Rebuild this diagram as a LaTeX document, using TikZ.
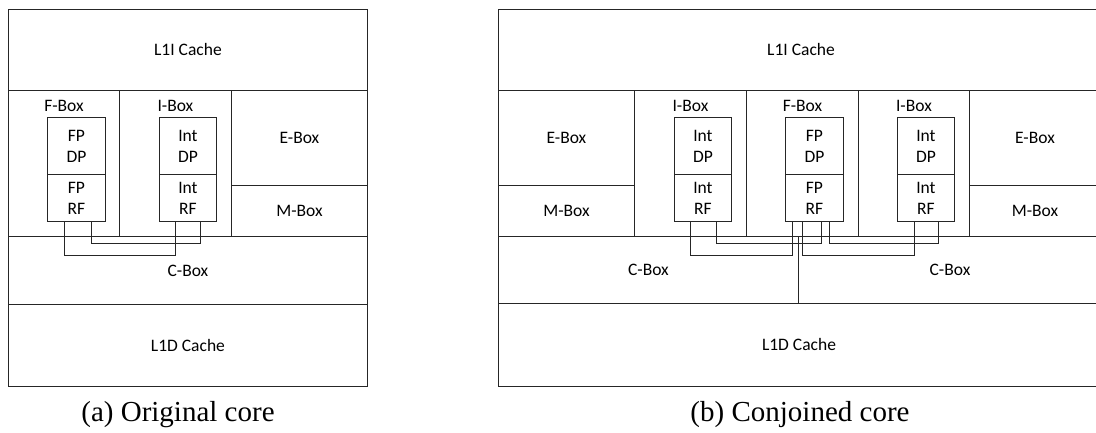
\documentclass[tikz,border=0pt]{standalone}
\usepackage{fontspec}
\setmainfont{Liberation Serif}
\newfontfamily\boxfont{Carlito}
\usetikzlibrary{positioning}

\begin{document}
\begin{tikzpicture}[x=1pt, y=-1pt,
    every node/.style={inner sep=0pt, align=center},
    unit/.style 2 args={draw=black!85, line width=0.9pt, anchor=north west,
        minimum width=#1pt, minimum height=#2pt, font=\boxfont\fontsize{17.5}{21}\selectfont},
    tag/.style={font=\boxfont\fontsize{17.5}{21}\selectfont},
    wire/.style={draw=black!85, line width=0.8pt},
    caption/.style={font=\fontsize{29}{32}\selectfont}
  ]
  \useasboundingbox (0,0) rectangle (1096,432);

  % (a) original core
  \node[unit={359}{81}] (ltop) at (8,9) {L1I Cache};
  \node[unit={111}{146}] (lfcol) at (8,90) {};
  \node[unit={112}{146}] (licol) at (119,90) {};
  \node[unit={136}{95}] (lebox) at (231,90) {E-Box};
  \node[unit={136}{51}] (lmbox) at (231,185) {M-Box};
  \node[unit={359}{68}] (lcbox) at (8,236) {C-Box};
  \node[unit={359}{82}] (lbot) at (8,304) {L1D Cache};
  \node[tag, below=10pt of lfcol.north] (lflbl) {F-Box};
  \node[tag, below=10pt of licol.north] (lilbl) {I-Box};

  \node[unit={58}{57}] (lfpdp) at (47,117) {FP\\DP};
  \node[unit={58}{47}] (lfprf) at (47,174) {FP\\RF};
  \node[unit={57}{57}] (lintdp) at (159,117) {Int\\DP};
  \node[unit={57}{47}] (lintrf) at (159,174) {Int\\RF};

  \draw[wire] ([xshift=17pt]lfprf.south west) -- ++(0,33) -| ([xshift=16pt]lintrf.south west);
  \draw[wire] ([xshift=44pt]lfprf.south west) -- ++(0,21) -| ([xshift=41pt]lintrf.south west);

  % (b) conjoined core, cut off at the right
  \node[unit={640}{81}] (rtop) at (498,9) {};
  \node[unit={136}{95}] (rebox) at (498,90) {E-Box};
  \node[unit={136}{51}] (rmbox) at (498,185) {M-Box};
  \node[unit={112}{146}] (ricol) at (634,90) {};
  \node[unit={112}{146}] (rfcol) at (746,90) {};
  \node[unit={111}{146}] (ricolb) at (858,90) {};
  \node[unit={170}{95}] (reboxb) at (969,90) {};
  \node[unit={170}{51}] (rmboxb) at (969,185) {};
  \node[unit={300}{67}] (rcbox) at (498,236) {C-Box};
  \node[unit={340}{67}] (rcboxb) at (798,236) {};
  \node[unit={640}{83}] (rbot) at (498,303) {};
  \node[tag] (rtoplbl) at (801,49.5) {L1I Cache};
  \node[tag] (reblbl) at (1035,137.5) {E-Box};
  \node[tag] (rmblbl) at (1035,210.5) {M-Box};
  \node[tag] (rcblbl) at (950,269.5) {C-Box};
  \node[tag] (rbotlbl) at (799,344.5) {L1D Cache};
  \node[tag, below=10pt of ricol.north] (rilbl) {I-Box};
  \node[tag, below=10pt of rfcol.north] (rflbl) {F-Box};
  \node[tag, below=10pt of ricolb.north] (rilblb) {I-Box};

  \node[unit={57}{57}] (rintdp) at (674,117) {Int\\DP};
  \node[unit={57}{47}] (rintrf) at (674,174) {Int\\RF};
  \node[unit={58}{57}] (rfpdp) at (785,117) {FP\\DP};
  \node[unit={58}{47}] (rfprf) at (785,174) {FP\\RF};
  \node[unit={57}{57}] (rintdpb) at (897,117) {Int\\DP};
  \node[unit={57}{47}] (rintrfb) at (897,174) {Int\\RF};

  \draw[wire] ([xshift=16pt]rintrf.south west) -- ++(0,33) -| ([xshift=7pt]rfprf.south west);
  \draw[wire] ([xshift=42pt]rintrf.south west) -- ++(0,21) -| ([xshift=36pt]rfprf.south west);
  \draw[wire] ([xshift=17pt]rfprf.south west) -- ++(0,33) -| ([xshift=17pt]rintrfb.south west);
  \draw[wire] ([xshift=44pt]rfprf.south west) -- ++(0,21) -| ([xshift=41pt]rintrfb.south west);

  \node[caption] (capa) at (178,415) {(a) Original core};
  \node[caption] (capb) at (800,415) {(b) Conjoined core};
\end{tikzpicture}
\end{document}
